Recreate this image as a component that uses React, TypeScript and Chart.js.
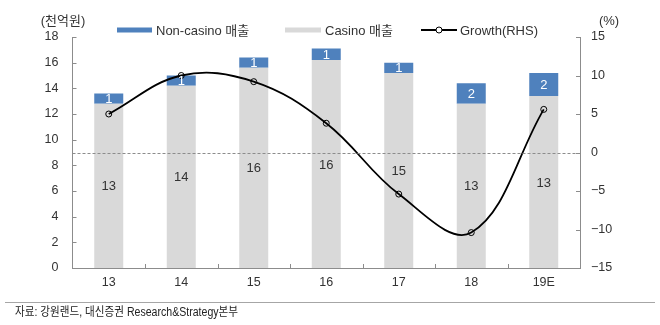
import React, { useEffect, useRef } from "react";
import { Chart, registerables } from "chart.js";

Chart.register(...registerables);

const categories = ["13", "14", "15", "16", "17", "18", "19E"];
const casinoSales = [12.8, 14.2, 15.6, 16.2, 15.2, 12.8, 13.4];
const nonCasinoSales = [0.8, 0.8, 0.8, 0.9, 0.8, 1.6, 1.8];
const growthRhs = [5.0, 10.0, 9.2, 3.8, -5.4, -10.4, 5.6];
const seriesNames = ["Non-casino 매출", "Casino 매출", "Growth(RHS)"];
const leftUnit = "(천억원)";
const rightUnit = "(%)";
const sourceNote = "자료: 강원랜드, 대신증권 Research&Strategy본부";

const FONT = '"Liberation Sans", Arial, "Noto Sans CJK KR", sans-serif';
const BLUE = "#4f81bd";
const GRAY = "#d9d9d9";
const AXIS = "#8c8c8c";
const TEXT = "#333333";

const decorPlugin = {
  id: "decor",
  afterDatasetsDraw(chart: any) {
    const ctx = chart.ctx;
    const area = chart.chartArea;
    const y1 = chart.scales.y1;
    ctx.save();
    // zero line (RHS)
    const zy = Math.round(y1.getPixelForValue(0)) + 0.5;
    ctx.strokeStyle = "#8c8c8c";
    ctx.lineWidth = 1;
    ctx.setLineDash([3, 2]);
    ctx.beginPath();
    ctx.moveTo(area.left, zy);
    ctx.lineTo(area.right, zy);
    ctx.stroke();
    ctx.setLineDash([]);

    // bar labels
    ctx.font = `13px ${FONT}`;
    ctx.textAlign = "center";
    ctx.textBaseline = "middle";
    const casinoMeta = chart.getDatasetMeta(0);
    const nonMeta = chart.getDatasetMeta(1);
    casinoMeta.data.forEach((el: any, i: number) => {
      ctx.fillStyle = TEXT;
      ctx.fillText(String(Math.round(casinoSales[i])), el.x, (el.y + el.base) / 2 + 1);
    });
    nonMeta.data.forEach((el: any, i: number) => {
      ctx.fillStyle = "#ffffff";
      ctx.fillText(String(Math.round(nonCasinoSales[i])), el.x, (el.y + el.base) / 2 + 1);
    });
    ctx.restore();
  },
  afterDraw(chart: any) {
    const ctx = chart.ctx;
    const area = chart.chartArea;
    const y = chart.scales.y;
    const y1 = chart.scales.y1;
    const x = chart.scales.x;
    ctx.save();
    ctx.strokeStyle = AXIS;
    ctx.lineWidth = 1;
    // inward tick marks
    ctx.beginPath();
    y.ticks.forEach((_t: any, i: number) => {
      const py = Math.round(y.getPixelForTick(i)) + 0.5;
      ctx.moveTo(area.left, py);
      ctx.lineTo(area.left + 4, py);
    });
    y1.ticks.forEach((_t: any, i: number) => {
      const py = Math.round(y1.getPixelForTick(i)) + 0.5;
      ctx.moveTo(area.right - 4, py);
      ctx.lineTo(area.right, py);
    });
    for (let i = 0; i < categories.length - 1; i++) {
      const px = Math.round((x.getPixelForValue(i) + x.getPixelForValue(i + 1)) / 2) + 0.5;
      ctx.moveTo(px, area.bottom);
      ctx.lineTo(px, area.bottom - 4);
    }
    ctx.stroke();

    // units
    ctx.fillStyle = TEXT;
    ctx.font = `13px ${FONT}`;
    ctx.textBaseline = "middle";
    ctx.textAlign = "center";
    ctx.fillText(leftUnit, 63, 21);
    ctx.fillText(rightUnit, 609, 21);

    // legend
    ctx.textAlign = "left";
    const ly = 30;
    ctx.fillStyle = BLUE;
    ctx.fillRect(117, ly - 2.5, 35, 5);
    ctx.fillStyle = TEXT;
    ctx.fillText(seriesNames[0], 156, ly + 1);
    ctx.fillStyle = GRAY;
    ctx.fillRect(285, ly - 2.5, 36, 5);
    ctx.fillStyle = TEXT;
    ctx.fillText(seriesNames[1], 325, ly + 1);
    ctx.strokeStyle = "#000";
    ctx.lineWidth = 1.8;
    ctx.beginPath();
    ctx.moveTo(421, ly);
    ctx.lineTo(457, ly);
    ctx.stroke();
    ctx.lineWidth = 1;
    ctx.beginPath();
    ctx.arc(439, ly, 3, 0, Math.PI * 2);
    ctx.fillStyle = "#fff";
    ctx.fill();
    ctx.stroke();
    ctx.fillStyle = TEXT;
    ctx.fillText(seriesNames[2], 460, ly + 1);

    // separator + source
    ctx.strokeStyle = "#a6a6a6";
    ctx.lineWidth = 1;
    ctx.beginPath();
    ctx.moveTo(5, 302.5);
    ctx.lineTo(655, 302.5);
    ctx.stroke();
    ctx.fillStyle = "#222";
    ctx.font = `12px ${FONT}`;
    const w = ctx.measureText(sourceNote).width;
    const target = 223;
    ctx.translate(15, 313);
    ctx.scale(target / w, 1);
    ctx.fillText(sourceNote, 0, 0);
    ctx.restore();
  },
};

const minusFmt = (v: any) => String(v).replace("-", "\u2212");

export default function App() {
  const ref = useRef<HTMLCanvasElement | null>(null);
  useEffect(() => {
    document.body.style.margin = "0";
    const canvas = ref.current;
    if (!canvas) return;
    const chart = new Chart(canvas, {
      type: "bar",
      data: {
        labels: categories,
        datasets: [
          {
            type: "bar",
            label: seriesNames[1],
            data: casinoSales,
            backgroundColor: GRAY,
            stack: "s",
            yAxisID: "y",
            order: 1,
            barPercentage: 0.4,
            categoryPercentage: 1,
          },
          {
            type: "bar",
            label: seriesNames[0],
            data: nonCasinoSales,
            backgroundColor: BLUE,
            stack: "s",
            yAxisID: "y",
            order: 2,
            barPercentage: 0.4,
            categoryPercentage: 1,
          },
          {
            type: "line",
            label: seriesNames[2],
            data: growthRhs,
            borderColor: "#000",
            borderWidth: 1.8,
            tension: 0.38,
            pointRadius: 3,
            pointBorderWidth: 1,
            pointBorderColor: "#000",
            pointBackgroundColor: "rgba(255,255,255,0)",
            yAxisID: "y1",
            order: 0,
          } as any,
        ],
      },
      options: {
        animation: false,
        responsive: false,
        devicePixelRatio: 1,
        layout: { padding: { top: 37, left: 0, right: 0, bottom: 0 } },
        plugins: { legend: { display: false }, tooltip: { enabled: false } },
        scales: {
          x: {
            stacked: true,
            offset: true,
            grid: { display: false, drawTicks: false },
            border: { display: true, color: AXIS },
            ticks: { color: TEXT, font: { size: 12.5, family: FONT }, padding: 7 },
            afterFit: (s: any) => {
              s.height = 57;
            },
          },
          y: {
            stacked: true,
            position: "left",
            min: 0,
            max: 18,
            grid: { display: false, drawTicks: false },
            border: { display: true, color: AXIS },
            ticks: { stepSize: 2, color: TEXT, font: { size: 12.5, family: FONT }, padding: 14 },
            afterFit: (s: any) => {
              s.width = 72.5;
            },
          },
          y1: {
            position: "right",
            min: -15,
            max: 15,
            grid: { display: false, drawTicks: false },
            border: { display: true, color: AXIS },
            ticks: {
              stepSize: 5,
              color: TEXT,
              font: { size: 12.5, family: FONT },
              padding: 11,
              callback: minusFmt,
            },
            afterFit: (s: any) => {
              s.width = 80;
            },
          },
        },
      },
      plugins: [decorPlugin],
    } as any);
    return () => chart.destroy();
  }, []);
  return (
    <div style={{ width: 660, height: 325, background: "#fff" }}>
      <canvas ref={ref} width={660} height={325} style={{ display: "block", width: 660, height: 325 }} />
    </div>
  );
}
